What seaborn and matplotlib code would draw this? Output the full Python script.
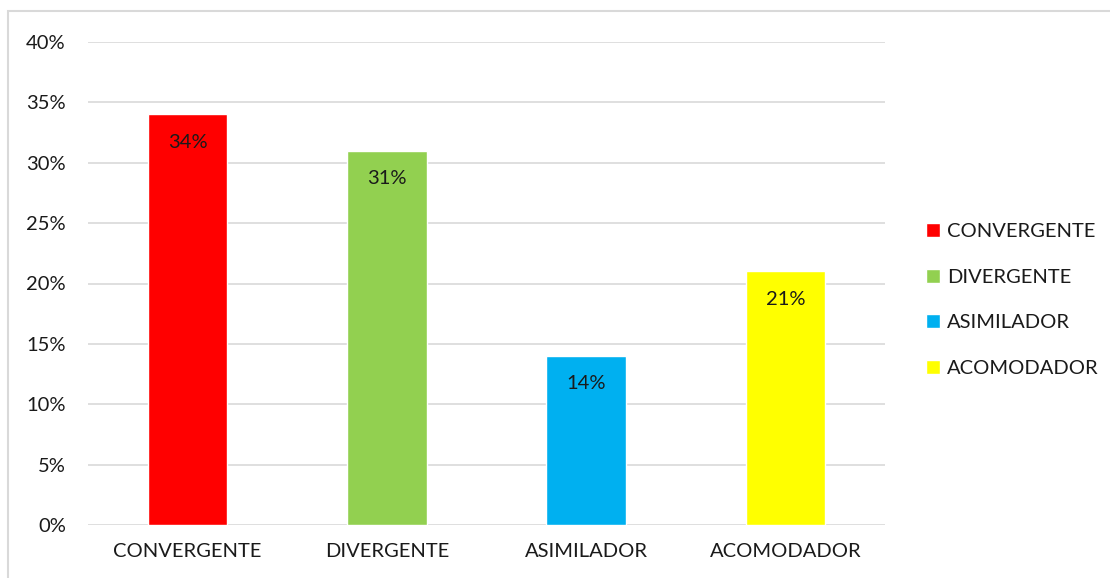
import numpy as np
import pandas as pd
import matplotlib
matplotlib.use("Agg")
import matplotlib.pyplot as plt
from matplotlib.patches import Rectangle, Patch
from matplotlib.ticker import PercentFormatter
import seaborn as sns

# data
categorias = ["CONVERGENTE", "DIVERGENTE", "ASIMILADOR", "ACOMODADOR"]
porcentajes = [34, 31, 14, 21]
colores = ["#FF0000", "#92D050", "#00B0F0", "#FFFF00"]

df = pd.DataFrame({"estilo": categorias, "pct": porcentajes})

sns.set_style("white")
plt.rcParams["font.family"] = ["Lato", "DejaVu Sans"]

fig = plt.figure(figsize=(11.1, 5.78), dpi=100)
ax = fig.add_axes([88 / 1110, 1 - 525 / 578, (885 - 88) / 1110, (525 - 42) / 578])

sns.barplot(data=df, x="estilo", y="pct", hue="estilo", palette=colores,
            width=0.4, legend=False, saturation=1, ax=ax)

ax.set_ylim(0, 40)
ax.set_yticks(np.arange(0, 41, 5))
ax.yaxis.set_major_formatter(PercentFormatter(decimals=0))
ax.grid(axis="y", color="#D9D9D9", linewidth=1.2)
ax.set_axisbelow(True)
for s in ax.spines.values():
    s.set_visible(False)
ax.set_xlabel("")
ax.set_ylabel("")
fs = 14.5
ax.tick_params(axis="both", length=0, labelsize=fs, labelcolor="#1a1a1a")
ax.tick_params(axis="x", pad=13)
ax.tick_params(axis="y", pad=16)

# value labels inside bars
for i, v in enumerate(porcentajes):
    ax.text(i, v - 2.3, f"{v}%", ha="center", va="center", fontsize=fs, color="#1a1a1a")

handles = [Patch(facecolor=c, label=l) for c, l in zip(colores, categorias)]
fig.legend(handles=handles, loc="center left", bbox_to_anchor=(908 / 1110, 1 - 300 / 578),
           frameon=False, fontsize=fs, handlelength=0.7, handleheight=0.7,
           handletextpad=0.35, labelspacing=1.42, labelcolor="#1a1a1a")

# outer chart frame
fig.patches.append(Rectangle((8 / 1110, -0.01), 1.1, 1 - 11 / 578 + 0.01, transform=fig.transFigure,
                             fill=False, edgecolor="#D9D9D9", linewidth=1.5))

fig.savefig("out.png", dpi=100)
